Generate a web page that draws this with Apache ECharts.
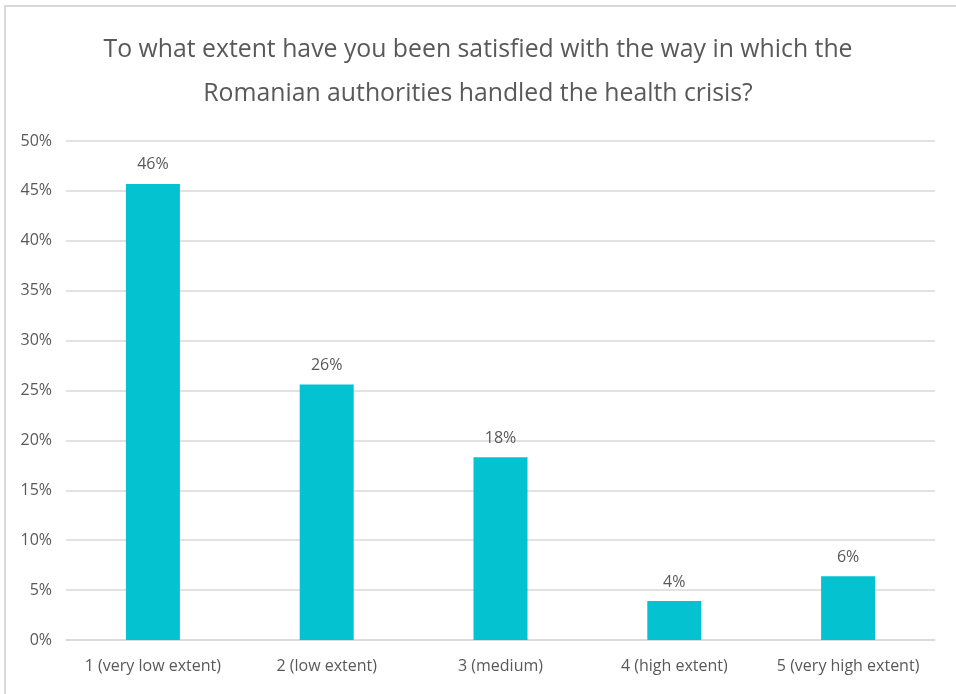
<!DOCTYPE html>
<html><head><meta charset="utf-8">
<script src="https://cdn.jsdelivr.net/npm/echarts@6/dist/echarts.min.js"></script>
<style>html,body{margin:0;padding:0;background:#fff}#c{width:956px;height:694px}</style>
</head><body><div id="c"></div>
<script>
const titleText = "To what extent have you been satisfied with the way in which the\nRomanian authorities handled the health crisis?";
const categories = ["1 (very low extent)", "2 (low extent)", "3 (medium)", "4 (high extent)", "5 (very high extent)"];
const values = [45.7, 25.6, 18.3, 3.9, 6.4];
const yTicks = [0, 5, 10, 15, 20, 25, 30, 35, 40, 45, 50];

const FONT = '"Open Sans", sans-serif';
const chart = echarts.init(document.getElementById('c'));
chart.setOption({
  animation: false,
  title: {
    text: titleText, left: 'center', top: 23,
    textStyle: {fontFamily: FONT, fontSize: 24.8, fontWeight: 'normal', color: '#595959', lineHeight: 44}
  },
  graphic: [{type: 'polyline', shape: {points: [[5, 694], [5, 6], [956, 6]]}, style: {stroke: '#d9d9d9', lineWidth: 2, fill: null}}],
  grid: {left: 66, right: 21, top: 141, bottom: 54},
  xAxis: {
    type: 'category', data: categories,
    axisLine: {lineStyle: {color: '#d9d9d9', width: 1.5}}, axisTick: {show: false},
    axisLabel: {fontFamily: FONT, fontSize: 16, color: '#595959', margin: 18, interval: 0}
  },
  yAxis: {
    type: 'value', min: 0, max: 50, interval: 5,
    axisLine: {show: false}, axisTick: {show: false},
    splitLine: {lineStyle: {color: '#d9d9d9', width: 1.5}},
    axisLabel: {fontFamily: FONT, fontSize: 16, color: '#595959', margin: 14,
      formatter: v => yTicks.includes(v) ? v + '%' : ''}
  },
  series: [{
    type: 'bar', data: values, barWidth: 54,
    itemStyle: {color: '#04C2D0'},
    label: {show: true, position: 'top', distance: 11, fontFamily: FONT, fontSize: 16, color: '#595959',
      formatter: p => Math.round(p.value) + '%'}
  }]
});
</script></body></html>
